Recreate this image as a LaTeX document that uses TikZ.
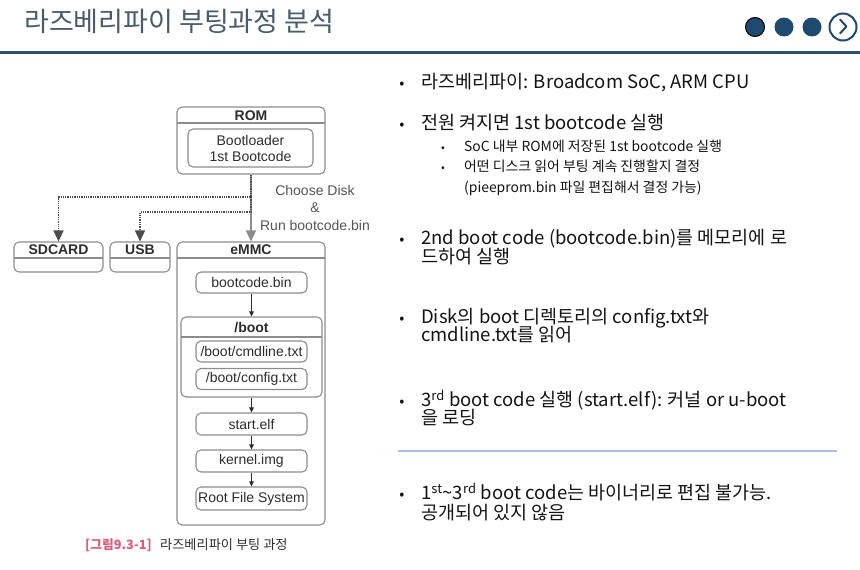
\documentclass[tikz,border=0pt]{standalone}
\usepackage{fontspec}
\setmainfont{Liberation Sans}
\newfontfamily\kr{Noto Sans CJK KR}
\usetikzlibrary{arrows.meta}
\definecolor{titlecol}{RGB}{72,92,108}
\definecolor{barblue}{RGB}{45,80,112}
\definecolor{dotblue}{RGB}{30,74,112}
\definecolor{boxgray}{RGB}{140,140,140}
\definecolor{dtxt}{RGB}{45,45,45}
\definecolor{lbltxt}{RGB}{85,85,85}
\definecolor{captred}{RGB}{226,88,120}
\definecolor{seplight}{RGB}{168,192,226}
\definecolor{bodytxt}{RGB}{20,20,20}
\begin{document}
\begin{tikzpicture}[x=1pt,y=-1pt,
  box/.style={draw=boxgray, line width=1.1pt, rounded corners=5pt, inner sep=0pt, fill=white},
  lbl/.style={font=\fontsize{14}{16}\selectfont, text=dtxt},
  hdr/.style={font=\bfseries\fontsize{14}{16}\selectfont, text=dtxt},
  sepline/.style={draw=boxgray, line width=1.1pt},
  grayarrow/.style={draw=boxgray, line width=1.6pt, -{Triangle[length=11pt,width=10pt]}},
  dotline/.style={draw=black!70, line width=1.3pt, densely dotted, -{Triangle[length=11pt,width=10pt]}},
  smallarrow/.style={draw=dtxt, line width=0.9pt, -{Triangle[length=5pt,width=4.5pt]}},
  mainline/.style={anchor=base west, inner sep=0pt, text=bodytxt, font=\kr\fontsize{18.5}{20}\selectfont},
  subline/.style={anchor=base west, inner sep=0pt, text=bodytxt, font=\kr\fontsize{13.9}{15}\selectfont},
  mainbullet/.style={anchor=base, inner sep=0pt, text=bodytxt, font=\kr\fontsize{15}{18}\selectfont},
  subbullet/.style={anchor=base, inner sep=0pt, text=bodytxt, font=\kr\fontsize{11}{13}\selectfont},
  navdot/.style={circle, fill=dotblue, minimum size=19pt, inner sep=0pt}
]
\useasboundingbox (0,0) rectangle (860,570);
\fill[white] (0,0) rectangle (860,570);

% ---------- title bar ----------
\node[anchor=base west, inner sep=0pt, text=titlecol, font=\kr\fontsize{27}{30}\selectfont] (title) at (24,31) {라즈베리파이 부팅과정 분석};
\draw[barblue, line width=3pt] (0,52) -- (860,52);
\node[navdot, draw=black, line width=1pt] (d1) at (755,27) {};
\node[navdot] (d2) at (784,27) {};
\node[navdot] (d3) at (812,27) {};
\node[circle, draw=dotblue, line width=2pt, fill=white, minimum size=27pt, inner sep=0pt] (nextbtn) at (843,27) {};
\draw[dotblue, line width=2pt, line cap=round, line join=round] (840,19.5) -- (846.5,26.5) -- (840,33.5);

% ---------- diagram ----------
\node[box, minimum width=148pt, minimum height=67pt] (rom) at (251,140.5) {};
\node[hdr] (romt) at (251,115.5) {ROM};
\draw[sepline] (177,123) -- (325,123);
\node[box, lbl, minimum width=125pt, minimum height=38pt, align=center] (boot1) at (250.5,148) {Bootloader\\1st Bootcode};

\node[box, minimum width=89pt, minimum height=30pt] (sd) at (58.5,257) {};
\node[hdr] (sdt) at (58.5,250) {SDCARD};
\draw[sepline] (14,258) -- (103,258);

\node[box, minimum width=60pt, minimum height=30pt] (usb) at (140,257) {};
\node[hdr] (usbt) at (140,250) {USB};
\draw[sepline] (110,258) -- (170,258);

\node[box, minimum width=148pt, minimum height=283pt] (emmc) at (251,383.5) {};
\node[hdr] (emmct) at (251,250) {eMMC};
\draw[sepline] (177,258) -- (325,258);

\node[box, lbl, minimum width=111pt, minimum height=21pt] (bcbin) at (251.5,282.5) {bootcode.bin};

\node[box, minimum width=141pt, minimum height=80pt] (bootdir) at (251.5,357) {};
\node[hdr] (bootdirt) at (251.5,327.5) {/boot};
\draw[sepline] (181,337) -- (322,337);
\node[box, lbl, minimum width=111pt, minimum height=21pt] (cmdl) at (251.5,351.5) {/boot/cmdline.txt};
\node[box, lbl, minimum width=111pt, minimum height=21pt] (conf) at (251.5,379) {/boot/config.txt};

\node[box, lbl, minimum width=111pt, minimum height=22pt] (startelf) at (251.5,424) {start.elf};
\node[box, lbl, minimum width=111pt, minimum height=22pt] (kimg) at (251.5,461) {kernel.img};
\node[box, lbl, minimum width=111pt, minimum height=23pt] (rootfs) at (251.5,498.5) {Root File System};

% connectors
\coordinate (br1) at (251,197);
\coordinate (br2) at (251,212);
\draw[grayarrow] (rom.south) -- (emmc.north);
\draw[dotline] (rom.south) -- (br1) -| (sd.north);
\draw[dotline] (br1) -- (br2) -| (usb.north);
\node[lbl, text=lbltxt, align=center, font=\fontsize{14}{17.5}\selectfont] (choose) at (315,207.5) {Choose Disk\\\&\\Run bootcode.bin};

\draw[smallarrow] (bcbin.south) -- (bootdir.north);
\draw[smallarrow] (bootdir.south) -- (startelf.north);
\draw[smallarrow] (startelf.south) -- (kimg.north);
\draw[smallarrow] (kimg.south) -- (rootfs.north);

% caption
\node[anchor=base west, inner sep=0pt, text=captred, font=\kr\bfseries\fontsize{12.8}{14}\selectfont] (cap1) at (85,549.5) {[그림9.3-1]};
\node[anchor=base west, inner sep=0pt, text=dtxt, font=\kr\fontsize{13.2}{14}\selectfont] (cap2) at (160,549.5) {라즈베리파이 부팅 과정};

% ---------- right text ----------
\node[mainbullet] (b1) at (402,88.7) {•};
\node[mainline] (t1) at (421,88.7) {라즈베리파이: Broadcom SoC, ARM CPU};

\node[mainbullet] (b2) at (402,129.7) {•};
\node[mainline] (t2) at (421,129.7) {전원 켜지면 1st bootcode 실행};
\node[subbullet] (sb1) at (443,151.9) {•};
\node[subline] (s1) at (464,151.9) {SoC 내부 ROM에 저장된 1st bootcode 실행};
\node[subbullet] (sb2) at (443,171.9) {•};
\node[subline] (s2) at (464,171.9) {어떤 디스크 읽어 부팅 계속 진행할지 결정};
\node[subline] (s3) at (464,192.9) {(pieeprom.bin 파일 편집해서 결정 가능)};

\node[mainbullet] (b3) at (402,244.7) {•};
\node[mainline] (t3a) at (421,244.7) {2nd boot code (bootcode.bin)를 메모리에 로};
\node[mainline] (t3b) at (421,263.7) {드하여 실행};

\node[mainbullet] (b4) at (402,323.7) {•};
\node[mainline] (t4a) at (421,323.7) {Disk의 boot 디렉토리의 config.txt와};
\node[mainline] (t4b) at (421,341.7) {cmdline.txt를 읽어};

\node[mainbullet] (b5) at (402,406.7) {•};
\node[mainline] (t5a) at (421,406.7) {3\textsuperscript{rd} boot code 실행 (start.elf): 커널 or u-boot};
\node[mainline] (t5b) at (421,424.7) {을 로딩};

\draw[seplight, line width=1.2pt] (398,451) -- (837,451);

\node[mainbullet] (b6) at (402,499.7) {•};
\node[mainline] (t6a) at (421,499.7) {1\textsuperscript{st}\textasciitilde 3\textsuperscript{rd} boot code는 바이너리로 편집 불가능.};
\node[mainline] (t6b) at (421,519.7) {공개되어 있지 않음};
\end{tikzpicture}
\end{document}
